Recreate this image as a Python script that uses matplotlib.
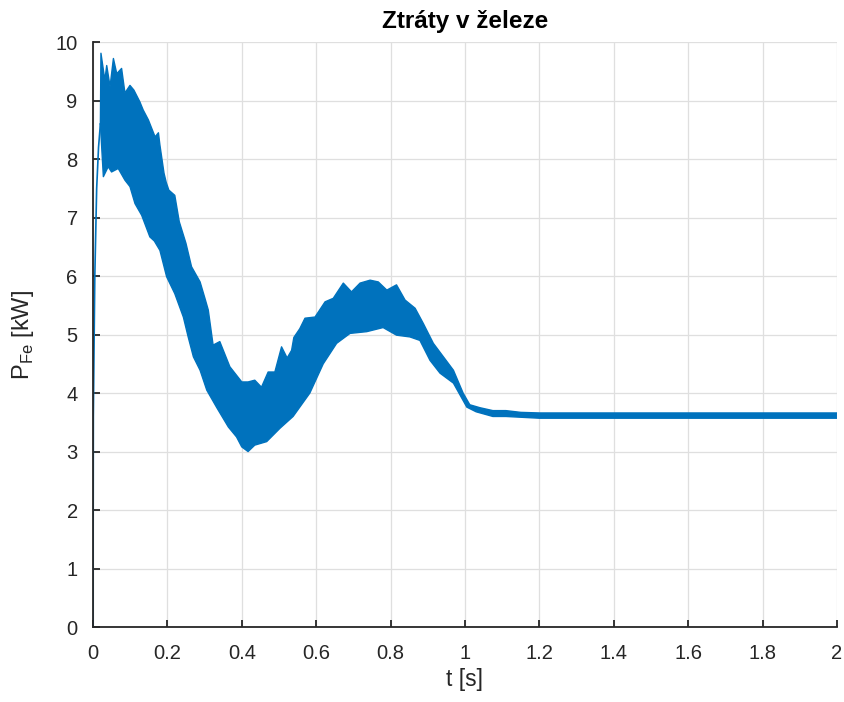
import numpy as np
import matplotlib
matplotlib.use("Agg")
import matplotlib.pyplot as plt

plt.rcParams['font.family'] = ['Liberation Sans', 'DejaVu Sans']
plt.rcParams['mathtext.fontset'] = 'custom'
plt.rcParams['mathtext.rm'] = 'Liberation Sans'

# start-up transient
t_start = [0.0, 0.0005, 0.001, 0.002, 0.005, 0.01, 0.015, 0.02]
p_start = [0.0, 1.3, 3.6, 4.2, 6.0, 7.5, 8.2, 8.6]

# upper edge of the oscillating iron losses [kW] (spike tops)
t_up = [0.02, 0.0215, 0.032, 0.037, 0.046, 0.055, 0.064, 0.077, 0.086, 0.0995,
        0.11, 0.126, 0.135, 0.149, 0.167, 0.176, 0.18, 0.191, 0.197, 0.204,
        0.22, 0.232, 0.25, 0.265, 0.288, 0.301, 0.31, 0.323, 0.341, 0.368,
        0.4, 0.417, 0.435, 0.453, 0.471, 0.489, 0.507, 0.522, 0.534, 0.54,
        0.556, 0.57, 0.597, 0.624, 0.646, 0.673, 0.695, 0.718, 0.745, 0.767,
        0.79, 0.816, 0.839, 0.866, 0.888, 0.915, 0.942, 0.969, 0.995, 1.013,
        1.04, 1.075, 1.11, 1.15, 1.2, 2.0]
p_up = [8.6, 9.81, 9.35, 9.6, 9.24, 9.72, 9.46, 9.55, 9.13, 9.26,
        9.18, 8.98, 8.84, 8.67, 8.38, 8.45, 8.24, 7.76, 7.6, 7.47,
        7.38, 6.93, 6.56, 6.16, 5.9, 5.62, 5.42, 4.82, 4.88, 4.45,
        4.19, 4.19, 4.22, 4.1, 4.36, 4.36, 4.79, 4.6, 4.73, 4.95,
        5.1, 5.28, 5.3, 5.56, 5.62, 5.88, 5.73, 5.88, 5.93, 5.9,
        5.76, 5.85, 5.59, 5.45, 5.19, 4.85, 4.62, 4.39, 4.0, 3.8,
        3.75, 3.7, 3.7, 3.67, 3.66, 3.66]

# lower edge [kW]
t_low = [0.02, 0.028, 0.041, 0.05, 0.068, 0.086, 0.0995, 0.113, 0.131, 0.153,
         0.165, 0.18, 0.198, 0.22, 0.243, 0.256, 0.27, 0.288, 0.306, 0.333,
         0.364, 0.386, 0.4, 0.417, 0.435, 0.467, 0.503, 0.538, 0.583, 0.619,
         0.655, 0.691, 0.736, 0.78, 0.816, 0.852, 0.879, 0.906, 0.933, 0.969,
         1.005, 1.03, 1.075, 1.11, 1.2, 2.0]
p_low = [8.6, 7.7, 7.87, 7.78, 7.84, 7.64, 7.53, 7.24, 7.04, 6.67,
         6.6, 6.44, 5.99, 5.7, 5.3, 4.96, 4.62, 4.39, 4.05, 3.75,
         3.42, 3.25, 3.08, 3.0, 3.11, 3.17, 3.4, 3.6, 4.0, 4.5,
         4.85, 5.02, 5.05, 5.12, 4.99, 4.96, 4.9, 4.56, 4.34, 4.17,
         3.76, 3.68, 3.6, 3.6, 3.57, 3.57]

blue = '#0072BD'
dark = '#262626'

fig = plt.figure(figsize=(8.45, 7.02), dpi=100)
ax = fig.add_axes([0.110, 0.1068, 0.8805, 0.8332])

ax.plot(t_start, p_start, color=blue, lw=1.2)
ax.fill(np.concatenate([t_up, t_low[::-1]]), np.concatenate([p_up, p_low[::-1]]),
        color=blue, lw=0)
ax.plot(t_up, p_up, color=blue, lw=1.0)
ax.plot(t_low, p_low, color=blue, lw=1.0)

ax.set_xlim(0, 2)
ax.set_ylim(0, 10)
ax.set_xticks(np.arange(0, 2.01, 0.2))
ax.set_xticklabels(['0', '0.2', '0.4', '0.6', '0.8', '1', '1.2', '1.4', '1.6', '1.8', '2'])
ax.set_yticks(range(0, 11))

ax.grid(True, color='#DFDFDF', lw=0.9)
ax.set_axisbelow(True)
for s in ['top', 'right']:
    ax.spines[s].set_visible(False)
for s in ['left', 'bottom']:
    ax.spines[s].set_color(dark)
    ax.spines[s].set_linewidth(1.3)
ax.tick_params(direction='in', length=5, width=1.3, color=dark,
               labelcolor=dark, labelsize=14.5)
ax.tick_params(axis='x', pad=12)
ax.tick_params(axis='y', pad=11)

ax.set_xlabel('t [s]', fontsize=16.5, color=dark, labelpad=4)
ax.set_ylabel(r'P$_{\mathregular{Fe}}$ [kW]', fontsize=17, color=dark, labelpad=14)
ax.set_title('Ztráty v železe', fontsize=17.5, fontweight='bold', pad=10)

fig.savefig('out.png', dpi=100)
